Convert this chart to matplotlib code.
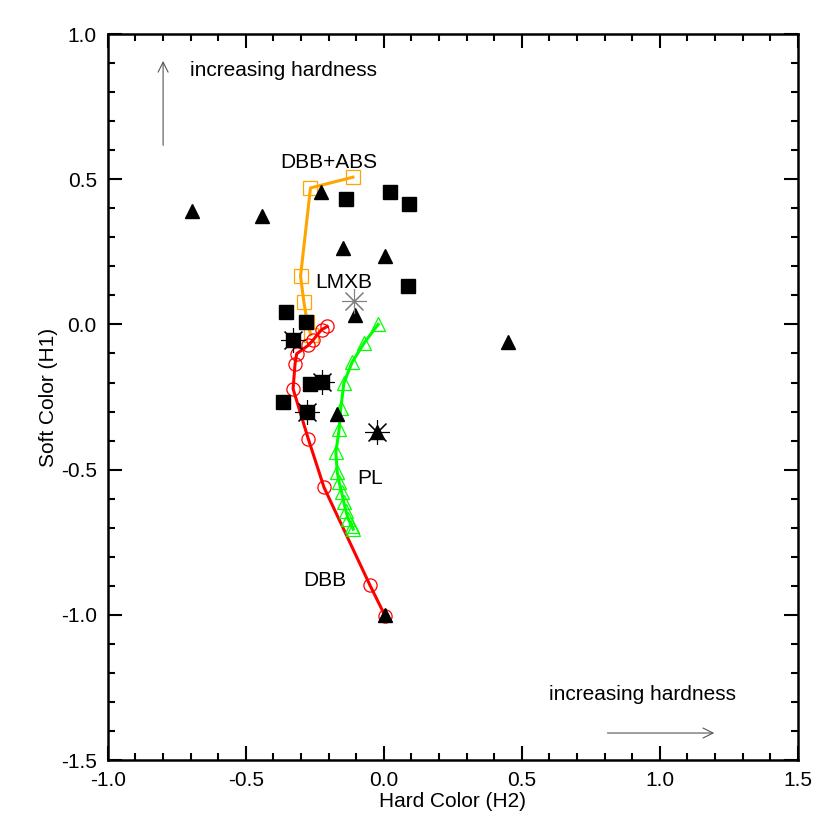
import numpy as np
import matplotlib
matplotlib.use('Agg')
import matplotlib.pyplot as plt
from matplotlib.ticker import MultipleLocator, FormatStrFormatter

plt.rcParams['font.family'] = ['Liberation Sans', 'DejaVu Sans']
plt.rcParams['axes.unicode_minus'] = False

# model tracks
dbb_abs_x = [-0.112, -0.266, -0.302, -0.290, -0.278, -0.265]
dbb_abs_y = [0.507, 0.470, 0.166, 0.078, 0.008, -0.036]

dbb_x = [-0.205, -0.226, -0.256, -0.274, -0.316, -0.322, -0.329, -0.274, -0.217, -0.051, 0.004]
dbb_y = [-0.007, -0.018, -0.053, -0.072, -0.101, -0.136, -0.222, -0.394, -0.561, -0.897, -1.003]

pl_x = [-0.021, -0.071, -0.115, -0.145, -0.156, -0.162, -0.174, -0.169, -0.162, -0.153, -0.145,
        -0.138, -0.129, -0.117, -0.111]
pl_y = [0.000, -0.063, -0.130, -0.202, -0.287, -0.360, -0.440, -0.509, -0.544, -0.578, -0.613,
        -0.641, -0.670, -0.693, -0.705]

# observed sources
sq_x = [0.022, 0.090, -0.138, 0.087, -0.353, -0.283, -0.331, -0.268, -0.226, -0.365, -0.280]
sq_y = [0.455, 0.414, 0.431, 0.131, 0.042, 0.008, -0.055, -0.205, -0.199, -0.268, -0.302]

tri_x = [-0.696, -0.442, -0.228, -0.149, 0.004, -0.105, 0.449, -0.171, -0.025, 0.004]
tri_y = [0.390, 0.372, 0.455, 0.262, 0.234, 0.031, -0.059, -0.308, -0.372, -1.000]

# asterisk flags
star_x = [-0.331, -0.226, -0.280, -0.025]
star_y = [-0.055, -0.199, -0.302, -0.372]
lmxb_x = [-0.109]
lmxb_y = [0.079]

fs = 15

fig = plt.figure(figsize=(8.3, 8.3), dpi=100)
ax = fig.add_axes([0.130, 0.0843, 0.8313, 0.8747])

ax.plot(dbb_abs_x, dbb_abs_y, color='#FFA500', lw=2.2, zorder=3)
ax.plot(dbb_abs_x, dbb_abs_y, 's', mfc='none', mec='#FFA500', ms=10, mew=0.9, zorder=3)
ax.plot(dbb_x, dbb_y, color='#FF0000', lw=2.2, zorder=3)
ax.plot(dbb_x, dbb_y, 'o', mfc='none', mec='#FF0000', ms=9.5, mew=0.9, zorder=3)
ax.plot(pl_x, pl_y, color='#00FF00', lw=2.2, zorder=3)
ax.plot(pl_x, pl_y, '^', mfc='none', mec='#00FF00', ms=10, mew=0.9, zorder=3)

ax.plot(sq_x, sq_y, 's', color='black', ms=9.5, zorder=4)
ax.plot(tri_x, tri_y, '^', color='black', ms=9.5, zorder=4)
ax.plot(star_x, star_y, marker=(8, 2, 0), ls='none', color='black', ms=18, mew=0.8, zorder=4)
ax.plot(lmxb_x, lmxb_y, marker=(8, 2, 0), ls='none', color='#808080', ms=18, mew=0.8, zorder=4)

ax.text(-0.20, 0.559, 'DBB+ABS', fontsize=fs, ha='center', va='center')
ax.text(-0.145, 0.145, 'LMXB', fontsize=fs, ha='center', va='center')
ax.text(-0.05, -0.531, 'PL', fontsize=fs, ha='center', va='center')
ax.text(-0.214, -0.883, 'DBB', fontsize=fs, ha='center', va='center')

ax.text(-0.703, 0.876, 'increasing hardness', fontsize=fs, ha='left', va='center')
ax.annotate('', xy=(-0.80, 0.917), xytext=(-0.80, 0.607),
            arrowprops=dict(arrowstyle='->', color='#555555', lw=0.8, mutation_scale=18))
ax.text(0.60, -1.276, 'increasing hardness', fontsize=fs, ha='left', va='center')
ax.annotate('', xy=(1.207, -1.407), xytext=(0.80, -1.407),
            arrowprops=dict(arrowstyle='->', color='#555555', lw=0.8, mutation_scale=18))

ax.set_xlim(-1.0, 1.5)
ax.set_ylim(-1.5, 1.0)
ax.xaxis.set_major_locator(MultipleLocator(0.5))
ax.xaxis.set_minor_locator(MultipleLocator(0.1))
ax.yaxis.set_major_locator(MultipleLocator(0.5))
ax.yaxis.set_minor_locator(MultipleLocator(0.1))
ax.xaxis.set_major_formatter(FormatStrFormatter('%.1f'))
ax.yaxis.set_major_formatter(FormatStrFormatter('%.1f'))
ax.tick_params(which='both', direction='in', top=True, right=True, width=1.5, labelsize=fs)
ax.tick_params(which='major', length=10, pad=8)
ax.tick_params(which='minor', length=5)
for s in ax.spines.values():
    s.set_linewidth(1.8)

ax.set_xlabel('Hard Color (H2)', fontsize=fs, labelpad=1)
ax.set_ylabel('Soft Color (H1)', fontsize=fs, labelpad=2)

fig.savefig('out.png', dpi=100)
